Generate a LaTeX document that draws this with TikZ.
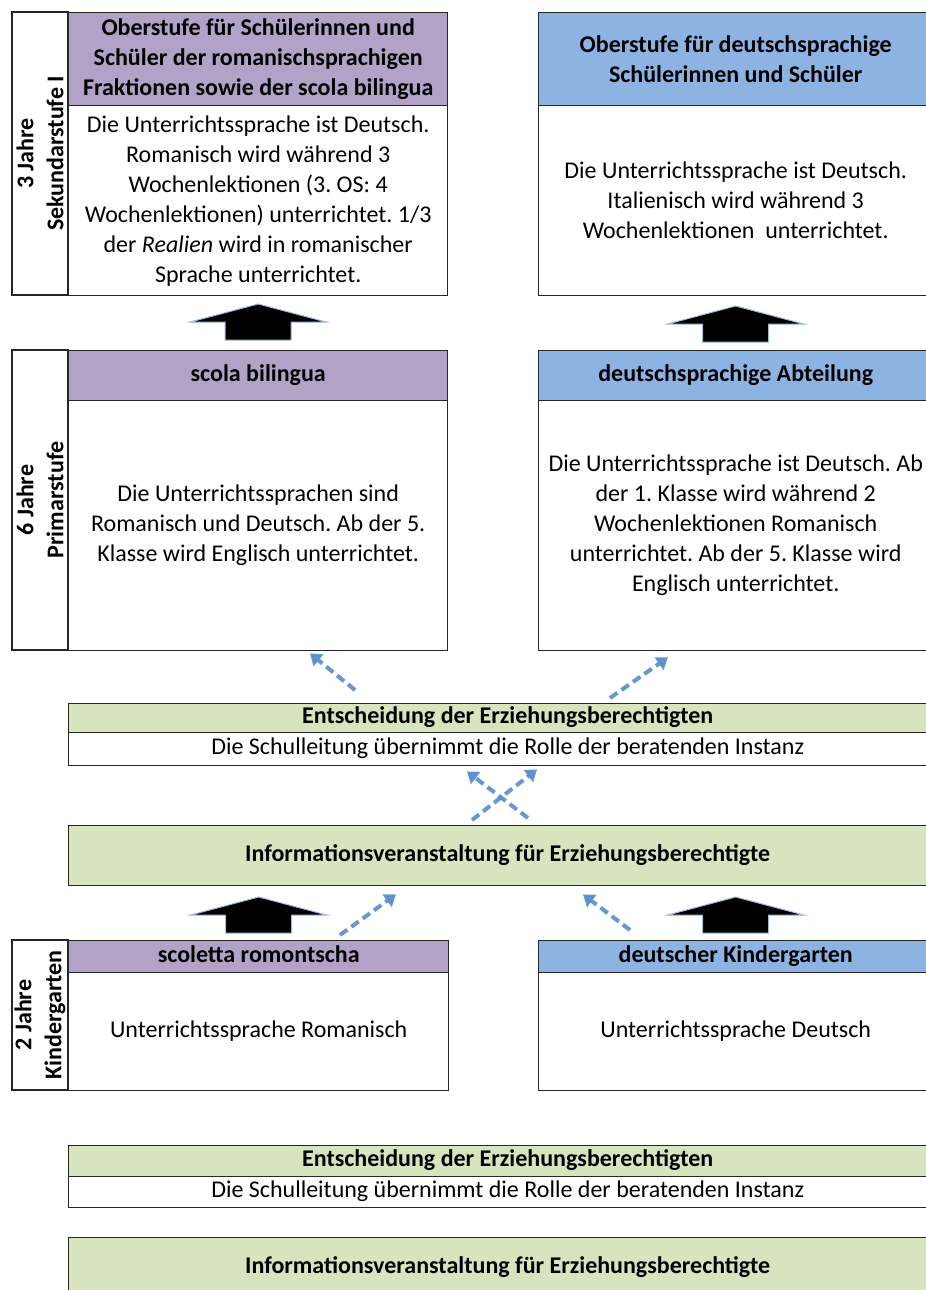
\documentclass[tikz,border=0pt]{standalone}
\usepackage{fontspec}
\setmainfont{Carlito}
\frenchspacing
\usetikzlibrary{arrows.meta,calc}
\definecolor{roma}{RGB}{178,162,199}
\definecolor{deut}{RGB}{141,179,226}
\definecolor{eltern}{RGB}{215,228,189}
\definecolor{wahl}{RGB}{88,140,205}
\tikzset{
  box/.style={draw=black!85, line width=1.4pt, inner sep=0pt, anchor=north west, align=center, font=\fontsize{24}{30}\selectfont},
  head/.style={box, font=\bfseries\fontsize{24}{30}\selectfont},
  oneline/.style={text height=17pt, text depth=6pt},
  side/.style={draw=black!85, line width=1.4pt, inner sep=0pt, rotate=90, align=center, font=\bfseries\fontsize{24}{30}\selectfont},
  choice/.style={draw=wahl, opacity=0.9, line width=4pt, dash pattern=on 9pt off 5pt, -{Triangle[width=15pt,length=11pt]}},
}
\begin{document}
\begin{tikzpicture}[x=1pt,y=-1pt]
\useasboundingbox (0,0) rectangle (926,1290);
\fill[white] (0,0) rectangle (926,1290);
\newcommand\bigup[2]{
\path[fill=black, draw=wahl!60, line width=1pt] ($(#1.north)+(0,-#2-36)$) -- ++(68,18) -- ++(-35,0) -- ++(0,18) -- ++(-66,0) -- ++(0,-18) -- ++(-35,0) -- cycle;
}

\node[side, minimum width=283pt, minimum height=56pt] (sek) at (40,153.5) {3 Jahre\\Sekundarstufe I};
\node[head, fill=roma, minimum width=379pt, minimum height=93pt] (sekRh) at (68,12) {Oberstufe für Schülerinnen und\\Schüler der romanischsprachigen\\Fraktionen sowie der scola bilingua};
\node[box, minimum width=379pt, minimum height=190pt] (sekRb) at (68,105) {Die Unterrichtssprache ist Deutsch.\\Romanisch wird während 3\\Wochenlektionen (3. OS: 4\\Wochenlektionen) unterrichtet. 1/3\\der \emph{Realien} wird in romanischer\\Sprache unterrichtet.};
\node[head, fill=deut, minimum width=394pt, minimum height=93pt] (sekDh) at (538,12) {Oberstufe für deutschsprachige\\Schülerinnen und Schüler};
\node[box, minimum width=394pt, minimum height=190pt] (sekDb) at (538,105) {Die Unterrichtssprache ist Deutsch.\\Italienisch wird während 3\\Wochenlektionen\ \ unterrichtet.};

\node[side, minimum width=300pt, minimum height=56pt] (pri) at (40,500) {6 Jahre\\Primarstufe};
\node[head, oneline, fill=roma, minimum width=379pt, minimum height=50pt] (priRh) at (68,350) {scola bilingua};
\node[box, minimum width=379pt, minimum height=250pt] (priRb) at (68,400) {Die Unterrichtssprachen sind\\Romanisch und Deutsch. Ab der 5.\\Klasse wird Englisch unterrichtet.};
\node[head, oneline, fill=deut, minimum width=394pt, minimum height=50pt] (priDh) at (538,350) {deutschsprachige Abteilung};
\node[box, minimum width=394pt, minimum height=250pt] (priDb) at (538,400) {Die Unterrichtssprache ist Deutsch. Ab\\der 1. Klasse wird während 2\\Wochenlektionen Romanisch\\unterrichtet. Ab der 5. Klasse wird\\Englisch unterrichtet.};

\node[head, oneline, fill=eltern, minimum width=878pt, minimum height=29pt] (ent1h) at (68,703) {Entscheidung der Erziehungsberechtigten};
\node[box, oneline, minimum width=878pt, minimum height=33pt] (ent1b) at (68,732) {Die Schulleitung übernimmt die Rolle der beratenden Instanz};
\node[head, oneline, fill=eltern, minimum width=878pt, minimum height=60pt] (inf1) at (68,825) {Informationsveranstaltung für Erziehungsberechtigte};

\node[side, minimum width=150pt, minimum height=56pt] (kin) at (40,1015) {2 Jahre\\Kindergarten};
\node[head, oneline, fill=roma, minimum width=380pt, minimum height=32pt] (kinRh) at (68,940) {scoletta romontscha};
\node[box, oneline, minimum width=380pt, minimum height=118pt] (kinRb) at (68,972) {Unterrichtssprache Romanisch};
\node[head, oneline, fill=deut, minimum width=394pt, minimum height=32pt] (kinDh) at (538,940) {deutscher Kindergarten};
\node[box, oneline, minimum width=394pt, minimum height=118pt] (kinDb) at (538,972) {Unterrichtssprache Deutsch};

\node[head, oneline, fill=eltern, minimum width=878pt, minimum height=31pt] (ent2h) at (68,1145) {Entscheidung der Erziehungsberechtigten};
\node[box, oneline, minimum width=878pt, minimum height=31pt] (ent2b) at (68,1176) {Die Schulleitung übernimmt die Rolle der beratenden Instanz};
\node[head, oneline, fill=eltern, minimum width=878pt, minimum height=60pt] (inf2) at (68,1237) {Informationsveranstaltung für Erziehungsberechtigte};

\bigup{priRh}{10}
\bigup{priDh}{8}
\bigup{kinRh}{7}
\bigup{kinDh}{7}

\draw[choice] ([shift={(287,-13)}]ent1h.north west) -- ([shift={(242,2)}]priRb.south west);
\draw[choice] ([shift={(542,-5)}]ent1h.north west) -- ([shift={(130,6)}]priDb.south west);
\draw[choice] ([shift={(460,-7)}]inf1.north west) -- ([shift={(399,5)}]ent1b.south west);
\draw[choice] ([shift={(404,-5)}]inf1.north west) -- ([shift={(469,3)}]ent1b.south west);
\draw[choice] ([shift={(272,-5)}]kinRh.north west) -- ([shift={(328,8)}]inf1.south west);
\draw[choice] ([shift={(92,-10)}]kinDh.north west) -- ([shift={(515,8)}]inf1.south west);
\end{tikzpicture}
\end{document}
